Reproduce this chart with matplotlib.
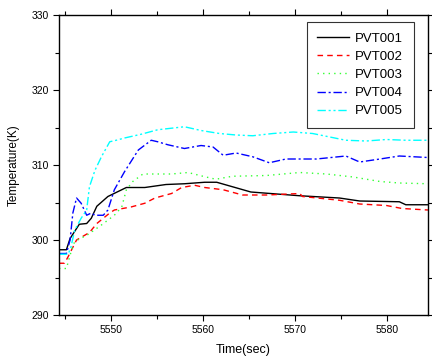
import matplotlib
matplotlib.use("Agg")
from matplotlib import pyplot as plt
from matplotlib.ticker import MultipleLocator

plt.rcParams['font.family'] = ['Liberation Sans', 'DejaVu Sans']

# PVT001 - black solid
t1 = [5544.4, 5545.2, 5545.6, 5546.6, 5547.4, 5547.9, 5548.5, 5549.7, 5551.7, 5553.7,
      5556.0, 5558.0, 5560.2, 5561.5, 5565.2, 5570.5, 5574.8, 5577.0, 5581.3, 5582.0, 5584.4]
v1 = [298.7, 298.7, 300.2, 302.1, 302.2, 302.9, 304.5, 305.8, 307.0, 307.0,
      307.4, 307.5, 307.7, 307.7, 306.4, 305.9, 305.6, 305.2, 305.1, 304.7, 304.7]

# PVT002 - red dashed
t2 = [5544.4, 5545.0, 5545.4, 5546.3, 5547.7, 5548.5, 5549.9, 5550.4, 5552.2, 5553.7,
      5554.8, 5556.6, 5557.7, 5559.1, 5560.2, 5562.2, 5564.3, 5566.9, 5570.5, 5570.8,
      5574.8, 5577.0, 5579.9, 5581.6, 5584.4]
v2 = [296.9, 296.9, 297.8, 300.0, 301.0, 302.2, 303.6, 304.0, 304.4, 304.9,
      305.6, 306.2, 307.0, 307.3, 307.0, 306.7, 306.0, 306.0, 306.2, 305.8,
      305.3, 304.8, 304.6, 304.2, 304.0]

# PVT003 - green dotted
t3 = [5544.4, 5545.2, 5545.7, 5546.1, 5547.5, 5549.0, 5550.4, 5551.2, 5551.7, 5552.4,
      5553.5, 5556.6, 5558.4, 5560.0, 5561.4, 5563.2, 5566.9, 5570.5, 5573.4, 5576.3,
      5579.2, 5581.3, 5584.4]
v3 = [296.2, 296.2, 298.4, 299.8, 300.7, 302.0, 303.3, 304.4, 306.7, 307.8,
      308.8, 308.8, 309.0, 308.5, 308.1, 308.5, 308.6, 309.0, 308.8, 308.4,
      307.8, 307.6, 307.5]

# PVT004 - blue dash-dot
t4 = [5544.4, 5545.2, 5545.6, 5545.9, 5546.3, 5546.8, 5547.4, 5547.9, 5548.3, 5549.2,
      5549.7, 5550.4, 5551.5, 5553.0, 5554.4, 5555.1, 5556.2, 5558.0, 5559.8, 5561.1,
      5562.2, 5563.6, 5565.4, 5567.2, 5569.0, 5572.3, 5575.5, 5577.0, 5579.2, 5581.3,
      5584.4]
v4 = [298.2, 298.2, 300.0, 303.6, 305.6, 304.9, 303.3, 303.6, 303.3, 303.3,
      304.0, 306.7, 309.1, 312.0, 313.3, 313.1, 312.7, 312.2, 312.6, 312.4,
      311.3, 311.6, 311.1, 310.3, 310.8, 310.8, 311.2, 310.4, 310.8, 311.2,
      311.0]

# PVT005 - cyan dash-dot-dot
t5 = [5544.4, 5545.4, 5545.7, 5546.1, 5546.8, 5547.4, 5547.7, 5548.3, 5549.0, 5549.9,
      5550.6, 5551.5, 5553.3, 5555.1, 5558.0, 5559.8, 5561.8, 5563.6, 5565.4, 5567.6,
      5569.8, 5571.9, 5575.5, 5577.7, 5579.9, 5582.0, 5584.4]
v5 = [298.1, 298.1, 299.1, 301.3, 302.9, 304.0, 307.1, 309.3, 311.1, 313.1,
      313.3, 313.6, 314.1, 314.7, 315.1, 314.6, 314.2, 314.0, 313.9, 314.2,
      314.4, 314.2, 313.3, 313.2, 313.4, 313.3, 313.3]

fig = plt.figure(figsize=(4.32, 3.6), dpi=100)
ax = fig.add_axes([0.1366, 0.125, 0.854, 0.8333])

ax.plot(t1, v1, color="black", lw=1.0, ls="-", label="PVT001")
ax.plot(t2, v2, color="red", lw=1.0, ls=(0, (4, 3)), label="PVT002")
ax.plot(t3, v3, color="#33ff33", lw=1.0, ls=(0, (1, 3)), label="PVT003")
ax.plot(t4, v4, color="blue", lw=1.0, ls=(0, (6, 2, 1.5, 2)), label="PVT004")
ax.plot(t5, v5, color="cyan", lw=1.0, ls=(0, (6, 2, 1.5, 2, 1.5, 2)), label="PVT005")

ax.set_xlim(5544.4, 5584.4)
ax.set_ylim(290, 330)
ax.xaxis.set_major_locator(MultipleLocator(10))
ax.xaxis.set_minor_locator(MultipleLocator(5))
ax.yaxis.set_major_locator(MultipleLocator(10))
ax.yaxis.set_minor_locator(MultipleLocator(5))
ax.tick_params(which="both", direction="out", top=True, right=True,
               labeltop=False, labelright=False, labelsize=7.5, width=0.8)
ax.tick_params(which="major", length=4)
ax.tick_params(which="minor", length=3)
for s in ax.spines.values():
    s.set_linewidth(1.0)

ax.set_xlabel("Time(sec)", fontsize=9, labelpad=6)
ax.set_ylabel("Temperature(K)", fontsize=8.5, labelpad=8)

leg = ax.legend(loc="upper right", fontsize=9.5, frameon=True, fancybox=False,
                edgecolor="black", handlelength=2.4, handletextpad=0.5,
                borderpad=0.8, labelspacing=0.45, borderaxespad=0,
                bbox_to_anchor=(0.962, 0.977))
leg.get_frame().set_linewidth(0.8)

plt.savefig("out.png", dpi=100)
